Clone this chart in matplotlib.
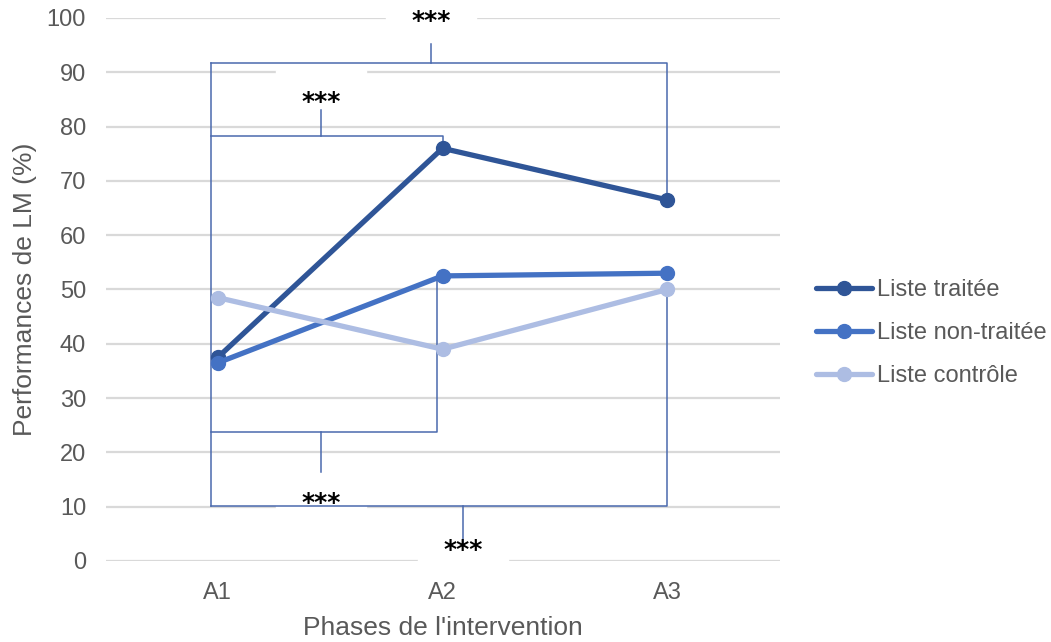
import matplotlib.pyplot as plt
from matplotlib.patches import Rectangle

plt.rcParams['font.family'] = ['Liberation Sans', 'DejaVu Sans']

phases = ["A1", "A2", "A3"]
series_names = ["Liste traitée", "Liste non-traitée", "Liste contrôle"]
traitee = [37.5, 76.0, 66.5]
non_traitee = [36.5, 52.5, 53.0]
controle = [48.5, 39.0, 50.0]
colors = ["#2F5597", "#4472C4", "#ADBDE3"]

# significance brackets: (x_left, x_right, y, tick_x, tick_end, label_y)
brackets_top = [(0.97, 3.0, 91.7, 1.95, 95.2, 99.4),
                (0.97, 2.0, 78.3, 1.46, 83.0, 84.6)]
brackets_bottom = [(0.97, 1.975, 23.8, 1.46, 16.4, 10.6),
                   (0.97, 3.0, 10.1, 2.09, 2.7, 2.0)]

fig = plt.figure(figsize=(10.51, 6.42), dpi=100)
ax = fig.add_axes([0.1004, 0.1262, 0.6413, 0.8458])
x = [1, 2, 3]

for i in range(0, 101, 10):
    ax.axhline(i, color="#D9D9D9", lw=1.6, zorder=0)

# white boxes behind the star labels (hide grid, as in the original)
for (xc, yc, w, h) in [(1.95, 99.0, 0.4, 3.0), (1.46, 87.5, 0.4, 6.0),
                       (1.46, 10.0, 0.4, 2.0), (2.09, 0.0, 0.4, 2.0)]:
    ax.add_patch(Rectangle((xc - w / 2, yc - h / 2), w, h, color="white", zorder=1))

bc = "#4A6AAE"
ax.plot([0.97, 0.97], [91.7, 10.1], color=bc, lw=1.1, zorder=2)
ax.plot([0.97, 3.0, 3.0], [91.7, 91.7, 66.5], color=bc, lw=1.1, zorder=2)
ax.plot([0.97, 2.0, 2.0], [78.3, 78.3, 75.5], color=bc, lw=1.1, zorder=2)
ax.plot([0.97, 1.975, 1.975], [23.8, 23.8, 52.5], color=bc, lw=1.1, zorder=2)
ax.plot([0.97, 3.0, 3.0], [10.1, 10.1, 50.0], color=bc, lw=1.1, zorder=2)
for (xl, xr, y, tx, te, ly) in brackets_top + brackets_bottom:
    ax.plot([tx, tx], [y, te], color=bc, lw=1.1, zorder=2)
    ax.text(tx, ly, "***", ha="center", va="center", fontsize=18,
            fontweight="bold", color="black", family="DejaVu Sans", zorder=5)

for vals, name, c in zip([traitee, non_traitee, controle], series_names, colors):
    ax.plot(x, vals, color=c, lw=3.8, marker="o", markersize=10,
            label=name, zorder=3, solid_capstyle="round")

ax.set_xlim(0.5, 3.5)
ax.set_ylim(0, 100)
ax.set_xticks(x)
ax.set_xticklabels(phases)
ax.set_yticks(range(0, 101, 10))
ax.tick_params(length=0, labelsize=17, labelcolor="#595959", pad=14)
ax.tick_params(axis="x", pad=15)
for s in ax.spines.values():
    s.set_visible(False)
ax.set_xlabel("Phases de l'intervention", fontsize=19, color="#595959", labelpad=9)
ax.set_ylabel("Performances de LM (%)", fontsize=19, color="#595959", labelpad=7)

leg = fig.legend(loc="center left", bbox_to_anchor=(0.756, 0.481), frameon=False,
                 fontsize=17, handlelength=2.4, labelspacing=0.88, handletextpad=0.2)
for t in leg.get_texts():
    t.set_color("#595959")

fig.savefig("out.png", dpi=100)
